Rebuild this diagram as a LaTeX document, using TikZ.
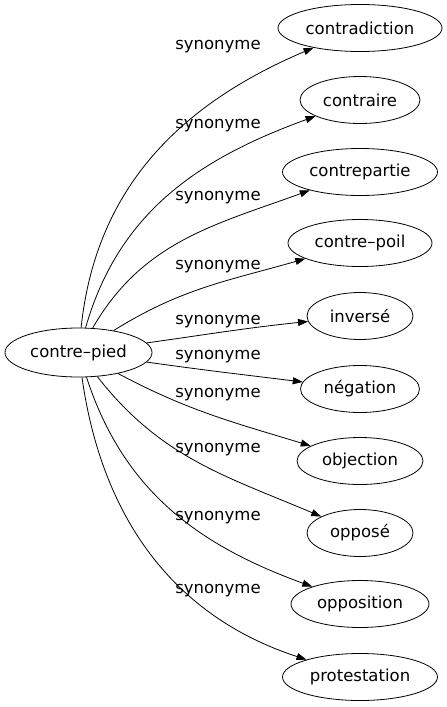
\documentclass[tikz,border=0pt]{standalone}
\usepackage{fontspec}
\setmainfont{DejaVu Sans}
\usetikzlibrary{arrows.meta,shapes.geometric}

\begin{document}
\begin{tikzpicture}[x=1pt, y=-1pt, line width=0.8pt, >={Triangle[length=10pt,width=7pt]},
  word/.style={ellipse, draw, inner sep=0pt, minimum height=47pt, font=\fontsize{16.5}{16.5}\selectfont},
  syn/.style={inner sep=0pt, font=\fontsize{16.5}{16.5}\selectfont}]

  \useasboundingbox (0,0) rectangle (447,707);

  \node[word, minimum width=147pt, minimum height=49pt] (cp) at (78.5,352.5) {contre–pied};

  % the ten synonyms on the right
  \foreach \name/\txt/\ty/\w in {contradiction/contradiction/28/164, contraire/contraire/100/120,
      contrepartie/contrepartie/172/155, contrepoil/contre–poil/243/144, inverse/inversé/316/106,
      negation/négation/389/119, objection/objection/461/126, oppose/opposé/533/106,
      opposition/opposition/604/138, protestation/protestation/677/155}
    \node[word, minimum width=\w pt] (\name) at (360,\ty) {\txt};

  % edges and their labels
  \foreach \name/\o/\i/\ly in {contradiction/84/203/47, contraire/74/200/126, contrepartie/60/200/198,
      contrepoil/32/196/267, inverse/8/186/322, negation/-8/173/357, objection/-28/163/395,
      oppose/-52/157/450, opposition/-72/160/518, protestation/-82/162/591}
  {
    \draw[->] (cp) to[out=\o, in=\i] (\name);
    \node[syn] (lab-\name) at (218,\ly) {synonyme};
  }
\end{tikzpicture}
\end{document}
